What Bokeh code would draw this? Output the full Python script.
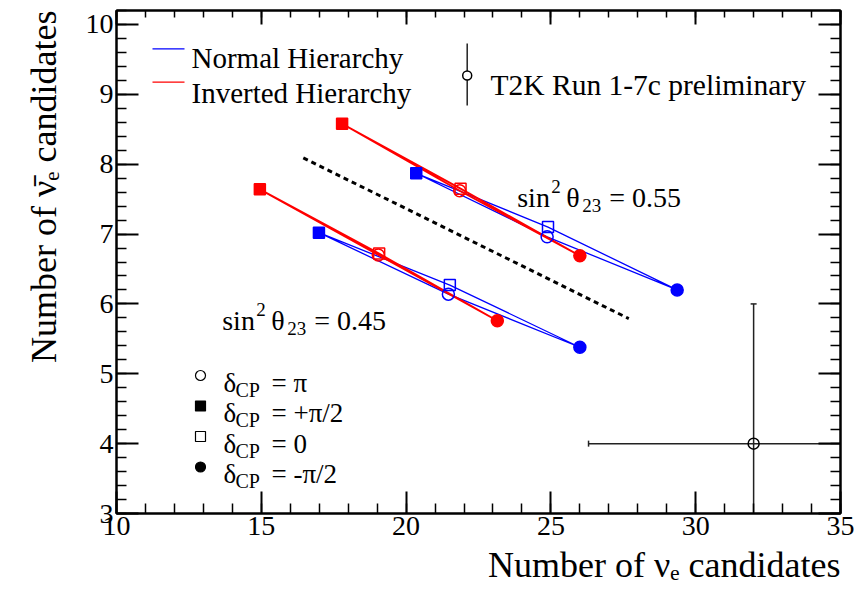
import math
from bokeh.plotting import figure
from bokeh.models import (ColumnDataSource, Label, SingleIntervalTicker, LinearAxis, Range1d,
                          Title, CustomJSTickFormatter)
from bokeh.embed import file_html
from bokeh.resources import INLINE

# ---------------- data ----------------
delta_labels = ["π", "+π/2", "0", "-π/2"]
delta_markers = ["circle", "square", "square", "circle"]
delta_filled = [False, True, False, True]

# order of values: delta = pi, +pi/2, 0, -pi/2
nh_055_x = [24.87, 20.35, 24.90, 29.36]
nh_055_y = [6.96, 7.87, 7.10, 6.20]
ih_055_x = [21.85, 17.79, 21.88, 26.00]
ih_055_y = [7.62, 8.58, 7.65, 6.69]
nh_045_x = [21.46, 16.99, 21.51, 26.00]
nh_045_y = [6.14, 7.02, 6.27, 5.38]
ih_045_x = [19.04, 14.95, 19.07, 23.15]
ih_045_y = [6.70, 7.64, 6.72, 5.76]

divider_x = [16.45, 27.69]
divider_y = [8.09, 5.79]

t2k_x = 32.0
t2k_y = 4.0
t2k_xerr = 5.7
t2k_yerr = 2.0

x_title = "Number of ν\u2091 candidates"
y_title = "Number of ν\u0304\u2091 candidates"

NH_COLOR = "#0000ff"
IH_COLOR = "#ff0000"
FONT = "Liberation Serif"

# ---------------- figure ----------------
W, H = 854, 590
L, R, T, B = 116, 14, 10, 77
p = figure(width=W, height=H, x_range=Range1d(10, 35), y_range=Range1d(3, 10.2),
           output_backend="svg", toolbar_location=None,
           min_border_left=L, min_border_right=R, min_border_top=T, min_border_bottom=B)
p.grid.visible = False
p.outline_line_color = "black"
p.outline_line_width = 2
p.background_fill_color = "white"
p.border_fill_color = "white"

bottom_ax = p.below[0]
left_ax = p.left[0]
bottom_ax.ticker = SingleIntervalTicker(interval=5, num_minor_ticks=5)
left_ax.ticker = SingleIntervalTicker(interval=1, num_minor_ticks=5)

top_ax = LinearAxis(ticker=SingleIntervalTicker(interval=5, num_minor_ticks=5),
                    formatter=CustomJSTickFormatter(code="return ''"))
right_ax = LinearAxis(ticker=SingleIntervalTicker(interval=1, num_minor_ticks=5),
                      formatter=CustomJSTickFormatter(code="return ''"))
p.add_layout(top_ax, "above")
p.add_layout(right_ax, "right")

for ax in [bottom_ax, left_ax, top_ax, right_ax]:
    ax.axis_line_color = "black"
    ax.axis_line_width = 2
    ax.major_tick_out = 0
    ax.minor_tick_out = 0
    ax.major_tick_line_width = 2
    ax.minor_tick_line_width = 1.5
    ax.major_tick_line_color = "black"
    ax.minor_tick_line_color = "black"
    ax.major_label_text_font = FONT
    ax.major_label_text_font_size = "28px"
    ax.major_label_text_color = "black"

bottom_ax.major_tick_in = 22
bottom_ax.minor_tick_in = 10
bottom_ax.major_label_standoff = 3
left_ax.major_tick_in = 22
left_ax.minor_tick_in = 10
left_ax.major_label_standoff = 3
top_ax.major_tick_in = 14
top_ax.minor_tick_in = 7
right_ax.major_tick_in = 22
right_ax.minor_tick_in = 10
for ax in [top_ax, right_ax]:
    ax.major_label_text_font_size = "1px"
    ax.major_label_standoff = 0

# axis titles (as side titles, aligned to the far end of each axis)
p.add_layout(Title(text=x_title, align="right", text_font=FONT, text_font_size="36px",
                   text_font_style="normal", text_color="black", standoff=11), "below")
p.add_layout(Title(text=y_title, align="right", text_font=FONT, text_font_size="36px",
                   text_font_style="normal", text_color="black", standoff=38, offset=0),
             "left")

FW, FH = W - L - R, H - T - B


def XPX(px):
    return 10 + (px - L) * 25.0 / FW


def YPX(py):
    return 3 + (H - B - py) * 7.2 / FH


# ---------------- curves ----------------
order = [1, 2, 3, 0, 1]
groups = [
    (nh_055_x, nh_055_y, NH_COLOR, 1.3),
    (ih_055_x, ih_055_y, IH_COLOR, 1.8),
    (nh_045_x, nh_045_y, NH_COLOR, 1.3),
    (ih_045_x, ih_045_y, IH_COLOR, 1.8),
]
for gx, gy, col, lw in groups:
    p.line([gx[i] for i in order], [gy[i] for i in order], line_color=col, line_width=lw)

for gx, gy, col, lw in groups:
    src = ColumnDataSource(dict(
        x=gx, y=gy, marker=delta_markers,
        fill=[col if f else None for f in delta_filled],
        size=[12 if m == "circle" else 11 for m in delta_markers],
    ))
    p.scatter("x", "y", source=src, marker="marker", size="size",
              fill_color="fill", line_color=col, line_width=1.5)

# dashed divider
p.line(divider_x, divider_y, line_color="black", line_width=3, line_dash="5 4")

# T2K data point with error bars
ERR_COLOR = "#222222"
p.segment(x0=[t2k_x - t2k_xerr, t2k_x], y0=[t2k_y, t2k_y - t2k_yerr],
          x1=[t2k_x + t2k_xerr, t2k_x], y1=[t2k_y, t2k_y + t2k_yerr],
          line_color=ERR_COLOR, line_width=1.5)
p.scatter([t2k_x, t2k_x], [t2k_y + t2k_yerr, t2k_y - t2k_yerr], marker="dash",
          size=6, line_color=ERR_COLOR, line_width=1.5)
p.scatter([t2k_x - t2k_xerr, t2k_x + t2k_xerr], [t2k_y, t2k_y], marker="dash",
          angle=math.pi / 2, size=6, line_color=ERR_COLOR, line_width=1.5)
p.scatter([t2k_x], [t2k_y], marker="circle", size=11, fill_color=None,
          line_color="black", line_width=1.5)


def lab(text, px, py, size, align="left", angle=0.0):
    p.add_layout(Label(x=XPX(px), y=YPX(py), text=text, text_font=FONT,
                       text_font_size=f"{size}px", text_align=align,
                       text_baseline="alphabetic", angle=angle, text_color="black"))


# ---------------- legends ----------------
p.segment(x0=[XPX(152)] * 2, y0=[YPX(48.3), YPX(81.7)], x1=[XPX(184)] * 2,
          y1=[YPX(48.3), YPX(81.7)], line_color=[NH_COLOR, IH_COLOR], line_width=1.3)
lab("Normal Hierarchy", 191, 57, 29)
lab("Inverted Hierarchy", 191, 92, 29)

p.segment(x0=[XPX(466.7)], y0=[YPX(43)], x1=[XPX(466.7)], y1=[YPX(105)],
          line_color=ERR_COLOR, line_width=1.5)
p.scatter([XPX(466.7)], [YPX(75)], marker="circle", size=9, fill_color="white",
          line_color="black", line_width=1.5)
lab("T2K Run 1-7c preliminary", 490, 84, 29.5)

rows_py = [375, 405.5, 436, 466.5]
for i, lbl in enumerate(delta_labels):
    py = rows_py[i]
    p.scatter([XPX(200)], [YPX(py)], marker=delta_markers[i], size=10,
              fill_color="black" if delta_filled[i] else None,
              line_color="black", line_width=1.2)
    lab("δ", 223, py + 7, 27)
    lab("CP", 235, py + 14, 20)
    lab("= " + lbl, 271, py + 7, 27)

# sin^2 theta annotations
for sx, sb, val in [(516.7, 196.7, "0.55"), (221.7, 320.0, "0.45")]:
    lab("sin", sx, sb, 28)
    lab("2", sx + 34, sb - 11, 19)
    lab("θ", sx + 49, sb, 28)
    lab("23", sx + 65, sb + 8, 19)
    lab("= " + val, sx + 92, sb, 28)

open("out.html", "w").write(file_html(p, INLINE))
